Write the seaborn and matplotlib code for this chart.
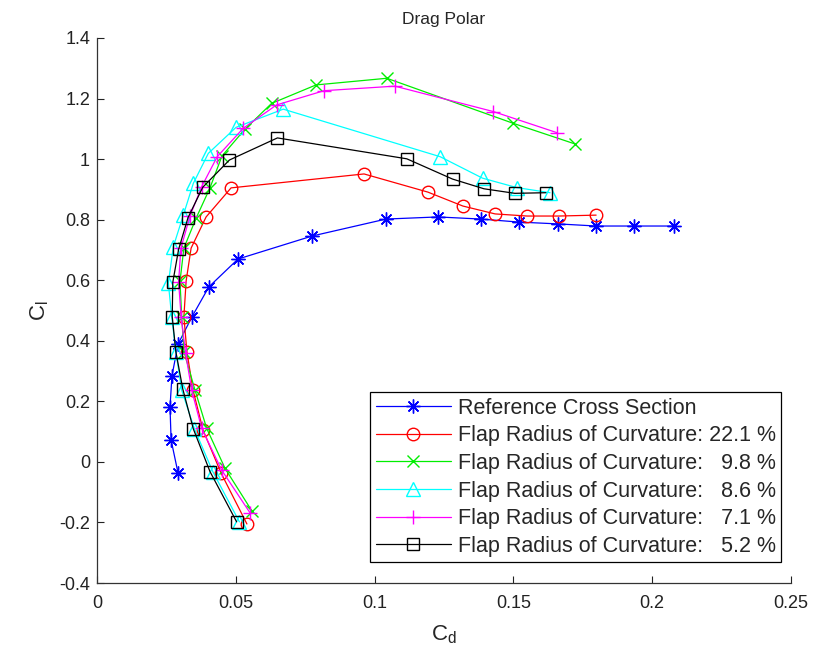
import numpy as np
import pandas as pd
import matplotlib
matplotlib.use("Agg")
import matplotlib.pyplot as plt
import seaborn as sns

# ---------------- data ----------------
labels = [
    "Reference Cross Section",
    "Flap Radius of Curvature: 22.1 %",
    "Flap Radius of Curvature:   9.8 %",
    "Flap Radius of Curvature:   8.6 %",
    "Flap Radius of Curvature:   7.1 %",
    "Flap Radius of Curvature:   5.2 %",
]

cd_ref = [0.0292, 0.0267, 0.0263, 0.0270, 0.0292, 0.0342, 0.0403, 0.0508, 0.0775,
          0.1041, 0.1228, 0.1383, 0.1520, 0.1661, 0.1798, 0.1934, 0.2079]
cl_ref = [-0.037, 0.072, 0.181, 0.284, 0.389, 0.479, 0.578, 0.670, 0.746,
          0.802, 0.809, 0.802, 0.792, 0.786, 0.779, 0.779, 0.779]

cd_221 = [0.0540, 0.0447, 0.0382, 0.0346, 0.0324, 0.0313, 0.0321, 0.0339, 0.0393,
          0.0483, 0.0962, 0.1192, 0.1318, 0.1434, 0.1549, 0.1664, 0.1798]
cl_221 = [-0.205, -0.037, 0.105, 0.237, 0.363, 0.479, 0.597, 0.706, 0.809,
          0.905, 0.951, 0.891, 0.845, 0.819, 0.812, 0.812, 0.815]

cd_98 = [0.0558, 0.0461, 0.0395, 0.0353, 0.0314, 0.0305, 0.0299, 0.0313, 0.0357,
         0.0407, 0.0450, 0.0533, 0.0629, 0.0789, 0.1044, 0.1500, 0.1722]
cl_98 = [-0.162, -0.021, 0.111, 0.237, 0.362, 0.480, 0.597, 0.706, 0.805,
         0.905, 1.010, 1.099, 1.184, 1.245, 1.267, 1.118, 1.050]

cd_86 = [0.0513, 0.0417, 0.0351, 0.0305, 0.0284, 0.0269, 0.0257, 0.0275, 0.0311,
         0.0347, 0.0401, 0.0501, 0.0671, 0.1236, 0.1389, 0.1512, 0.1632]
cl_86 = [-0.198, -0.032, 0.109, 0.237, 0.364, 0.480, 0.590, 0.711, 0.815,
         0.920, 1.019, 1.105, 1.165, 1.008, 0.937, 0.906, 0.889]

cd_71 = [0.0551, 0.0449, 0.0377, 0.0341, 0.0319, 0.0303, 0.0294, 0.0302, 0.0335,
         0.0377, 0.0433, 0.0527, 0.0647, 0.0818, 0.1073, 0.1428, 0.1658]
cl_71 = [-0.168, -0.027, 0.111, 0.237, 0.360, 0.479, 0.594, 0.705, 0.812,
         0.909, 1.008, 1.102, 1.179, 1.226, 1.241, 1.157, 1.087]

cd_52 = [0.0503, 0.0407, 0.0347, 0.0309, 0.0284, 0.0271, 0.0273, 0.0294, 0.0328,
         0.0381, 0.0477, 0.0650, 0.1116, 0.1281, 0.1394, 0.1505, 0.1617]
cl_52 = [-0.198, -0.032, 0.109, 0.241, 0.364, 0.480, 0.593, 0.702, 0.807,
         0.907, 0.997, 1.070, 1.001, 0.934, 0.902, 0.887, 0.889]

x_ticks = [0, 0.05, 0.1, 0.15, 0.2, 0.25]
x_ticklabels = ["0", "0.05", "0.1", "0.15", "0.2", "0.25"]
y_ticks = [-0.4, -0.2, 0, 0.2, 0.4, 0.6, 0.8, 1.0, 1.2, 1.4]
y_ticklabels = ["-0.4", "-0.2", "0", "0.2", "0.4", "0.6", "0.8", "1", "1.2", "1.4"]

series_cd = [cd_ref, cd_221, cd_98, cd_86, cd_71, cd_52]
series_cl = [cl_ref, cl_221, cl_98, cl_86, cl_71, cl_52]

# ---------------- styling ----------------
sns.set_style("white")
plt.rcParams["font.family"] = ["Liberation Sans", "DejaVu Sans"]
plt.rcParams["mathtext.fontset"] = "custom"
plt.rcParams["mathtext.rm"] = "Liberation Sans"

colors = ["#0000ff", "#ff0000", "#00ee00", "#00ffff", "#ff00ff", "#000000"]
markers = [(8, 2, 0), "o", "x", "^", "+", "s"]
msizes = [10, 9, 8, 10, 10, 9]

fig = plt.figure(figsize=(8.17, 6.53), dpi=100)
ax = fig.add_axes([97 / 817, 1 - 583 / 653, (791 - 97) / 817, (583 - 38) / 653])

for lab, cd, cl, c, m, ms in zip(labels, series_cd, series_cl, colors, markers, msizes):
    df = pd.DataFrame({"Cd": cd, "Cl": cl})
    sns.lineplot(data=df, x="Cd", y="Cl", sort=False, ax=ax, color=c,
                 marker=m, markersize=ms, markerfacecolor="none",
                 markeredgecolor=c, markeredgewidth=1.0, linewidth=0.9,
                 label=lab, estimator=None)

ax.set_xlim(0, 0.25)
ax.set_ylim(-0.4, 1.4)
ax.set_xticks(x_ticks)
ax.set_xticklabels(x_ticklabels)
ax.set_yticks(y_ticks)
ax.set_yticklabels(y_ticklabels)
ax.tick_params(direction="in", length=5, width=0.8, labelsize=13,
               colors="#222222", bottom=True, left=True)
ax.tick_params(axis="x", pad=9)
ax.tick_params(axis="y", pad=5)
for s in ["top", "right"]:
    ax.spines[s].set_visible(False)
for s in ["left", "bottom"]:
    ax.spines[s].set_color("#333333")
    ax.spines[s].set_linewidth(0.9)

ax.set_xlabel(r"$\mathregular{C_d}$", fontsize=16, labelpad=8)
ax.set_ylabel(r"$\mathregular{C_l}$", fontsize=16, labelpad=6)
ax.set_title("Drag Polar", fontsize=12.5, pad=10)

leg = ax.legend(loc="lower right", fontsize=15.5, frameon=True, fancybox=False,
                edgecolor="black", handlelength=3.5, borderpad=0.25,
                labelspacing=0.31, handletextpad=0.3, borderaxespad=0,
                bbox_to_anchor=(0.9855, 0.038))
leg.get_frame().set_linewidth(0.9)
leg.get_frame().set_facecolor("white")
leg.get_frame().set_alpha(1)

fig.savefig("out.png", dpi=100)
